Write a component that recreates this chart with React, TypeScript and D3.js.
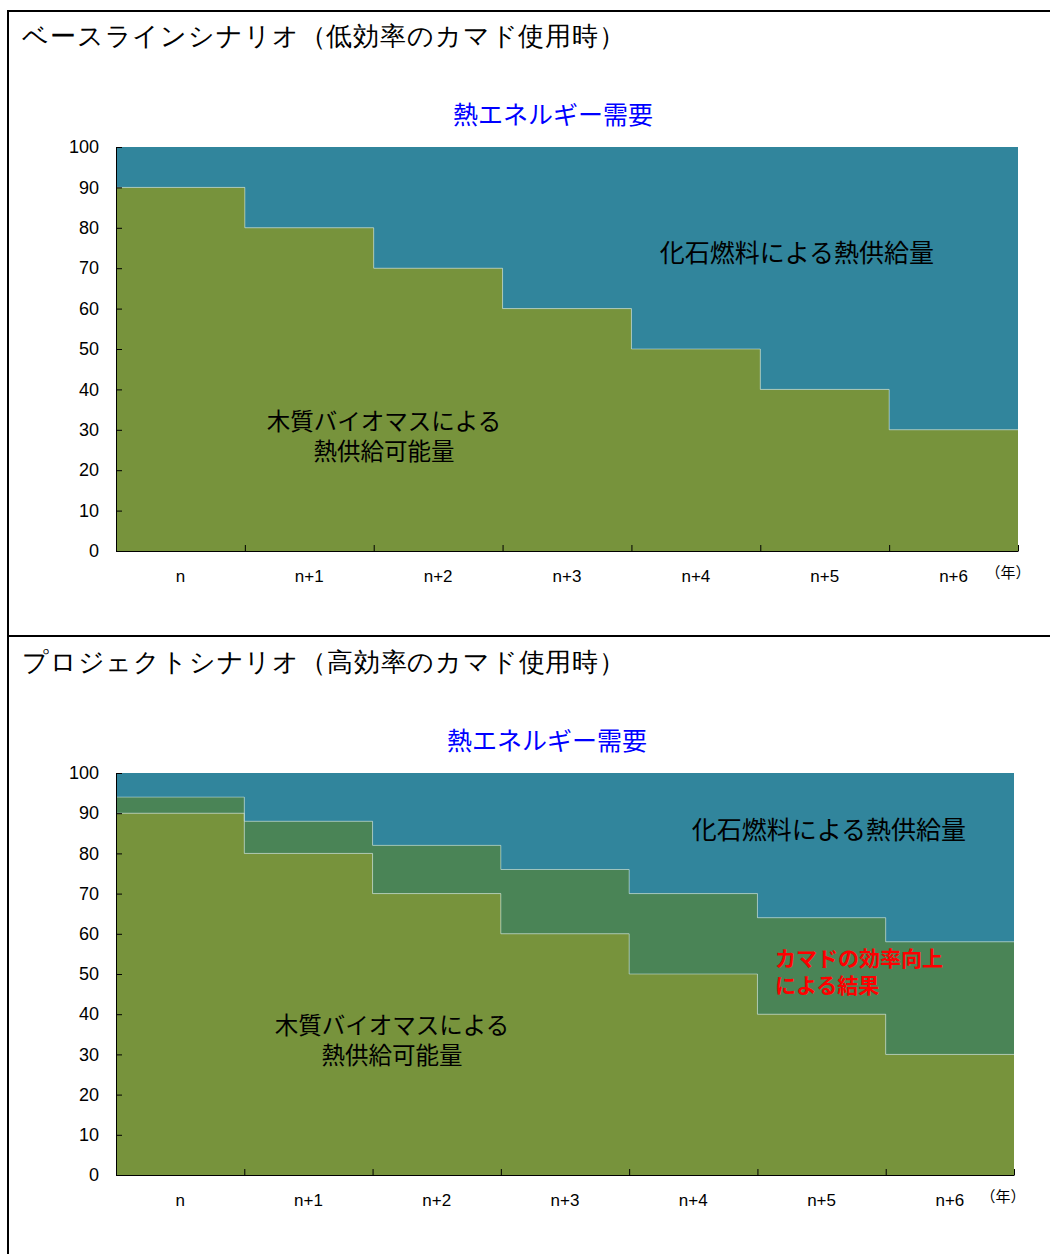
import React, { useEffect, useRef } from "react";
import * as d3 from "d3";

const years = ["n", "n+1", "n+2", "n+3", "n+4", "n+5", "n+6"];
const yTicks = [0, 10, 20, 30, 40, 50, 60, 70, 80, 90, 100];
const demand = [100, 100, 100, 100, 100, 100, 100];
const baselineBiomass = [90, 80, 70, 60, 50, 40, 30];
const projectBiomass = [90, 80, 70, 60, 50, 40, 30];
const projectSupply = [94, 88, 82, 76, 70, 64, 58];

const TEAL = "#31859c";
const OLIVE = "#77933c";
const DKGREEN = "#4a8456";
const EDGE = "rgba(200,225,230,0.55)";
const JP = "'Noto Sans CJK JP', 'Noto Sans', sans-serif";
const NUM = "'Liberation Sans', Arial, sans-serif";

type Layer = { lo: number[]; hi: number[]; color: string };

const App = () => {
  const ref = useRef<SVGSVGElement>(null);

  useEffect(() => {
    const svg = d3.select(ref.current);
    svg.selectAll("*").remove();

    // panel frames
    svg.append("line").attr("x1", 8).attr("x2", 1050).attr("y1", 11).attr("y2", 11)
      .attr("stroke", "#000").attr("stroke-width", 2);
    svg.append("line").attr("x1", 8).attr("x2", 1050).attr("y1", 636).attr("y2", 636)
      .attr("stroke", "#000").attr("stroke-width", 2);
    svg.append("line").attr("x1", 8).attr("x2", 8).attr("y1", 10).attr("y2", 1254)
      .attr("stroke", "#000").attr("stroke-width", 2);

    const drawPanel = (cfg: {
      title: string; top: number; left: number; right: number; y100: number; y0: number;
      layers: Layer[]; chartTitleX: number; fossilX: number; fossilY: number;
      bioX: number; bioY: number; yearX: number; extra?: boolean;
    }) => {
      const g = svg.append("g");

      g.append("text").attr("x", 22).attr("y", cfg.top + 34)
        .attr("font-family", "serif").attr("font-size", 26).attr("fill", "#000")
        .attr("textLength", 603).attr("lengthAdjust", "spacing")
        .text(cfg.title);

      const x = d3.scaleBand().domain(years).range([cfg.left, cfg.right]).padding(0);
      const xi = d3.scaleLinear().domain([0, years.length]).range([cfg.left, cfg.right]);
      const y = d3.scaleLinear().domain([0, 100]).range([cfg.y0, cfg.y100]);

      const pts = (vals: number[]) => [...vals.map((v, i) => [i, v]), [vals.length, vals[vals.length - 1]]];
      const area = d3.area<number[]>()
        .x(d => xi(d[0]))
        .y0(d => y(d[1]))
        .y1(d => y(d[2]))
        .curve(d3.curveStepAfter);
      const edge = d3.line<number[]>().x(d => xi(d[0])).y(d => y(d[1])).curve(d3.curveStepAfter);

      cfg.layers.forEach(l => {
        const data = pts(l.lo).map((p, i) => [p[0], p[1], pts(l.hi)[i][1]]);
        g.append("path").datum(data).attr("d", area).attr("fill", l.color);
      });
      cfg.layers.forEach(l => {
        if (l.hi[0] < 100) {
          g.append("path").datum(pts(l.hi)).attr("d", edge)
            .attr("fill", "none").attr("stroke", EDGE).attr("stroke-width", 1);
        }
      });

      // y axis
      const ya = g.append("g").attr("transform", `translate(${cfg.left},0)`)
        .call(d3.axisLeft(y).tickValues(yTicks).tickSizeInner(-6).tickSizeOuter(0).tickPadding(17));
      ya.selectAll("text").attr("font-family", NUM).attr("font-size", 18).attr("fill", "#000");
      ya.selectAll("line").attr("stroke", "#000");
      ya.select(".domain").attr("stroke", "#000");

      // x axis: tick marks at boundaries
      const xt = g.append("g").attr("transform", `translate(0,${cfg.y0})`)
        .call(d3.axisBottom(xi).tickValues(d3.range(0, years.length + 1)).tickSizeInner(-6).tickSizeOuter(0).tickFormat(() => ""));
      xt.selectAll("line").attr("stroke", "#000");
      xt.select(".domain").attr("stroke", "#000");
      const xl = g.append("g").attr("transform", `translate(0,${cfg.y0})`)
        .call(d3.axisBottom(x).tickSize(0).tickPadding(19));
      xl.select(".domain").remove();
      xl.selectAll("text").attr("font-family", NUM).attr("font-size", 17).attr("fill", "#000");

      g.append("text").attr("x", cfg.yearX).attr("y", cfg.y0 + 27).attr("text-anchor", "middle")
        .attr("font-family", JP).attr("font-size", 15).attr("fill", "#000").text("（年）");

      g.append("text").attr("x", cfg.chartTitleX).attr("y", cfg.y100 - 23).attr("text-anchor", "middle")
        .attr("font-family", JP).attr("font-size", 25).attr("fill", "#0000ff").text("熱エネルギー需要");

      g.append("text").attr("x", cfg.fossilX).attr("y", cfg.fossilY).attr("text-anchor", "middle")
        .attr("font-family", JP).attr("font-size", 25).attr("fill", "#000").text("化石燃料による熱供給量");

      const bio = g.append("text").attr("text-anchor", "middle")
        .attr("font-family", JP).attr("font-size", 23.5).attr("fill", "#000");
      bio.append("tspan").attr("x", cfg.bioX).attr("y", cfg.bioY).text("木質バイオマスによる");
      bio.append("tspan").attr("x", cfg.bioX).attr("y", cfg.bioY + 30).text("熱供給可能量");

      if (cfg.extra) {
        const red = g.append("text").attr("font-family", JP).attr("font-size", 21)
          .attr("font-weight", "bold").attr("fill", "#ff0000");
        red.append("tspan").attr("x", 775).attr("y", 966).text("カマドの効率向上");
        red.append("tspan").attr("x", 775).attr("y", 993).text("による結果");
      }
    };

    drawPanel({
      title: "ベースラインシナリオ（低効率のカマド使用時）",
      top: 11, left: 116, right: 1018, y100: 147, y0: 551,
      layers: [
        { lo: baselineBiomass, hi: demand, color: TEAL },
        { lo: baselineBiomass.map(() => 0), hi: baselineBiomass, color: OLIVE },
      ],
      chartTitleX: 553, fossilX: 797, fossilY: 262, bioX: 384, bioY: 430, yearX: 1008,
    });

    drawPanel({
      title: "プロジェクトシナリオ（高効率のカマド使用時）",
      top: 637, left: 116, right: 1014, y100: 773, y0: 1175,
      layers: [
        { lo: projectSupply, hi: demand, color: TEAL },
        { lo: projectBiomass, hi: projectSupply, color: DKGREEN },
        { lo: projectBiomass.map(() => 0), hi: projectBiomass, color: OLIVE },
      ],
      chartTitleX: 547, fossilX: 829, fossilY: 839, bioX: 392, bioY: 1034, yearX: 1003, extra: true,
    });
  }, []);

  return (
    <svg ref={ref} width={1050} height={1254}
      style={{ position: "absolute", left: 0, top: 0, background: "#fff" }} />
  );
};

export default App;
